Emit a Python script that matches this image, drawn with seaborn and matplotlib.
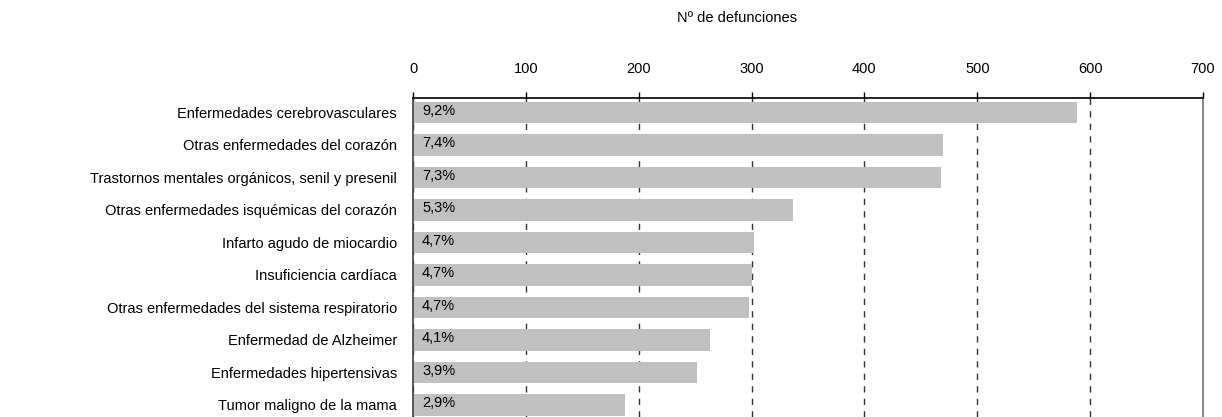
import matplotlib
matplotlib.use("Agg")
import matplotlib.pyplot as plt
import seaborn as sns
import pandas as pd

causas = [
    "Enfermedades cerebrovasculares",
    "Otras enfermedades del corazón",
    "Trastornos mentales orgánicos, senil y presenil",
    "Otras enfermedades isquémicas del corazón",
    "Infarto agudo de miocardio",
    "Insuficiencia cardíaca",
    "Otras enfermedades del sistema respiratorio",
    "Enfermedad de Alzheimer",
    "Enfermedades hipertensivas",
    "Tumor maligno de la mama",
]
defunciones = [588, 470, 468, 337, 302, 300, 298, 263, 252, 188]
porcentajes = ["9,2%", "7,4%", "7,3%", "5,3%", "4,7%", "4,7%", "4,7%", "4,1%", "3,9%", "2,9%"]
x_ticks = [0, 100, 200, 300, 400, 500, 600, 700]
x_label = "Nº de defunciones"

sns.set_style("white")
plt.rcParams['font.family'] = ['Liberation Sans', 'DejaVu Sans']
plt.rcParams['font.size'] = 10.5

W, H = 1222, 417
fig = plt.figure(figsize=(W / 100, H / 100), dpi=100)
ax = fig.add_axes([413 / W, 0, 790 / W, (H - 97.7) / H])

df = pd.DataFrame({"causa": causas, "defunciones": defunciones})
sns.barplot(data=df, x="defunciones", y="causa", color="#C0C0C0",
            saturation=1, width=0.66, ax=ax, edgecolor="none")

ax.set_xlim(x_ticks[0], x_ticks[-1])
ax.set_ylim(len(causas) - 1 + 0.37, -0.455)
ax.set_axisbelow(True)
ax.set_xticks(x_ticks)
ax.xaxis.tick_top()
ax.xaxis.grid(True, linestyle=(0, (4.5, 4.5)), color="#333333", linewidth=1.0)
ax.yaxis.grid(False)
ax.set_xlabel("")
ax.set_ylabel("")

ax.tick_params(axis="x", direction="out", length=4.3, width=1, color="black",
               pad=11, labelsize=10.5, colors="black", top=True, bottom=False)
ax.tick_params(axis="y", length=0, pad=11.5, labelsize=10.5, colors="black")

for s in ["bottom"]:
    ax.spines[s].set_visible(False)
ax.spines["top"].set_color("black")
ax.spines["top"].set_linewidth(1.2)
ax.spines["left"].set_color("#404040")
ax.spines["left"].set_linewidth(1.2)
ax.spines["right"].set_color("#808080")
ax.spines["right"].set_linewidth(1.3)

for i, p in enumerate(porcentajes):
    ax.text(8, i - 0.05, p, va="center", ha="left", fontsize=10.5, color="black")

fig.text(737 / W, 1 - 18 / H, x_label, ha="center", va="center", fontsize=10.5, color="black")

fig.savefig("out.png", dpi=100)
